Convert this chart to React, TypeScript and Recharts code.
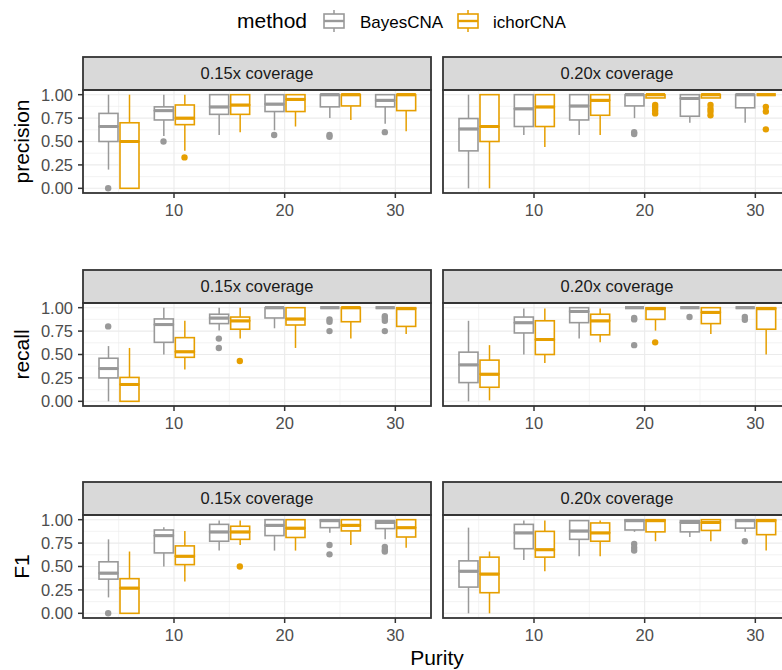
import { ComposedChart, Bar, Scatter, XAxis, YAxis, CartesianGrid } from "recharts";

const purity = [5, 10, 15, 20, 25, 30];
const purityTicks = [10, 20, 30];
const purityMinor = [5, 15, 25];
const scoreTicks = [0, 0.25, 0.5, 0.75, 1];
const scoreMinor = [0.125, 0.375, 0.625, 0.875];
const metrics = ["precision", "recall", "F1"];
const coverages = ["0.15x coverage", "0.20x coverage"];
const methods = ["BayesCNA", "ichorCNA"];

// each entry: [lower whisker, q1, median, q3, upper whisker]
const precisionLowBayes = [
  [0.2, 0.5, 0.66, 0.8, 1.0],
  [0.56, 0.73, 0.83, 0.87, 1.0],
  [0.57, 0.79, 0.87, 1.0, 1.0],
  [0.62, 0.82, 0.9, 1.0, 1.0],
  [0.75, 0.87, 1.0, 1.0, 1.0],
  [0.69, 0.87, 0.94, 1.0, 1.0],
];
const precisionLowIchor = [
  [0, 0, 0.5, 0.7, 1.0],
  [0.4, 0.68, 0.75, 0.89, 1.0],
  [0.6, 0.79, 0.89, 1.0, 1.0],
  [0.66, 0.82, 0.95, 1.0, 1.0],
  [0.73, 0.88, 1.0, 1.0, 1.0],
  [0.61, 0.83, 1.0, 1.0, 1.0],
];
const precisionHighBayes = [
  [0, 0.4, 0.635, 0.745, 1.0],
  [0.57, 0.66, 0.85, 1.0, 1.0],
  [0.57, 0.73, 0.88, 1.0, 1.0],
  [0.75, 0.88, 1.0, 1.0, 1.0],
  [0.7, 0.77, 0.96, 1.0, 1.0],
  [0.7, 0.86, 1.0, 1.0, 1.0],
];
const precisionHighIchor = [
  [0, 0.5, 0.66, 1.0, 1.0],
  [0.44, 0.66, 0.87, 1.0, 1.0],
  [0.57, 0.78, 0.94, 1.0, 1.0],
  [0.965, 0.965, 1.0, 1.0, 1.0],
  [0.965, 0.965, 1.0, 1.0, 1.0],
  [1.0, 1.0, 1.0, 1.0, 1.0],
];
const recallLowBayes = [
  [0, 0.25, 0.35, 0.46, 0.59],
  [0.5, 0.63, 0.82, 0.88, 1.0],
  [0.755, 0.83, 0.89, 0.93, 1.0],
  [0.78, 0.89, 1.0, 1.0, 1.0],
  [1.0, 1.0, 1.0, 1.0, 1.0],
  [1.0, 1.0, 1.0, 1.0, 1.0],
];
const recallLowIchor = [
  [0, 0, 0.18, 0.255, 0.57],
  [0.34, 0.47, 0.53, 0.68, 0.86],
  [0.67, 0.77, 0.86, 0.9, 1.0],
  [0.57, 0.815, 0.88, 1.0, 1.0],
  [0.67, 0.85, 1.0, 1.0, 1.0],
  [0.72, 0.8, 0.99, 1.0, 1.0],
];
const recallHighBayes = [
  [0, 0.2, 0.39, 0.525, 0.86],
  [0.5, 0.73, 0.84, 0.9, 0.99],
  [0.67, 0.84, 0.96, 1.0, 1.0],
  [1.0, 1.0, 1.0, 1.0, 1.0],
  [1.0, 1.0, 1.0, 1.0, 1.0],
  [1.0, 1.0, 1.0, 1.0, 1.0],
];
const recallHighIchor = [
  [0.01, 0.15, 0.29, 0.44, 0.6],
  [0.41, 0.5, 0.66, 0.86, 0.99],
  [0.63, 0.71, 0.86, 0.93, 0.99],
  [0.755, 0.875, 0.99, 1.0, 1.0],
  [0.72, 0.83, 0.95, 1.0, 1.0],
  [0.5, 0.77, 0.99, 1.0, 1.0],
];
const f1LowBayes = [
  [0.17, 0.365, 0.43, 0.55, 0.79],
  [0.5, 0.645, 0.83, 0.89, 0.92],
  [0.67, 0.77, 0.87, 0.95, 0.99],
  [0.67, 0.83, 0.94, 1.0, 1.0],
  [0.86, 0.915, 0.99, 1.0, 1.0],
  [0.79, 0.905, 0.97, 0.99, 0.99],
];
const f1LowIchor = [
  [0, 0, 0.27, 0.37, 0.66],
  [0.34, 0.52, 0.61, 0.72, 0.88],
  [0.73, 0.79, 0.87, 0.93, 0.99],
  [0.67, 0.81, 0.91, 1.0, 1.0],
  [0.73, 0.88, 0.94, 1.0, 1.0],
  [0.7, 0.815, 0.915, 1.0, 1.0],
];
const f1HighBayes = [
  [0, 0.28, 0.45, 0.56, 0.915],
  [0.57, 0.69, 0.86, 0.95, 0.99],
  [0.61, 0.79, 0.88, 0.99, 0.99],
  [0.87, 0.89, 0.99, 1.0, 1.0],
  [0.815, 0.87, 0.97, 0.99, 0.99],
  [0.87, 0.91, 0.99, 1.0, 1.0],
];
const f1HighIchor = [
  [0, 0.22, 0.42, 0.6, 0.66],
  [0.45, 0.6, 0.68, 0.875, 0.99],
  [0.61, 0.77, 0.86, 0.965, 0.99],
  [0.77, 0.87, 0.99, 1.0, 1.0],
  [0.77, 0.885, 0.97, 1.0, 1.0],
  [0.67, 0.84, 0.99, 1.0, 1.0],
];

// outliers, one list per purity level
const precisionLowBayesOut = [[0], [0.5], [], [0.57], [0.57, 0.55], [0.6]];
const precisionLowIchorOut = [[], [0.33], [], [], [], []];
const precisionHighBayesOut = [[], [], [], [0.6, 0.58], [], []];
const precisionHighIchorOut = [[], [], [], [0.89, 0.86, 0.83, 0.8], [0.89, 0.85, 0.82, 0.78], [0.87, 0.82, 0.63]];
const recallLowBayesOut = [[0.8], [], [0.67, 0.57], [], [0.875, 0.85, 0.75], [0.91, 0.89, 0.86, 0.75]];
const recallLowIchorOut = [[], [], [0.43], [], [], []];
const recallHighBayesOut = [[], [], [], [0.89, 0.875, 0.6], [0.9], [0.9, 0.87]];
const recallHighIchorOut = [[], [], [], [0.63], [], []];
const f1LowBayesOut = [[0], [], [], [], [0.73, 0.63], [0.71, 0.68, 0.66]];
const f1LowIchorOut = [[], [], [0.5], [], [], []];
const f1HighBayesOut = [[], [], [], [0.74, 0.7, 0.67], [], [0.77]];
const f1HighIchorOut = [[], [], [], [], [], []];

const FONT = '"Liberation Sans", Arial, Helvetica, sans-serif';
const GREY = "#999999";
const ORANGE = "#E69F00";
const DARK = "#333333";
const GRID = "#ebebeb";

const PLOT_TOPS = [90, 303, 515];
const PLOT_H = 103;
const STRIP_H = 33;
const COL_X = [83, 443];
const PLOT_W = 348;
const Y_AXIS_W = 83;
const TOP_PAD = 12;

const panelSeries = [
  [
    [precisionLowBayes, precisionLowIchor, precisionLowBayesOut, precisionLowIchorOut],
    [precisionHighBayes, precisionHighIchor, precisionHighBayesOut, precisionHighIchorOut],
  ],
  [
    [recallLowBayes, recallLowIchor, recallLowBayesOut, recallLowIchorOut],
    [recallHighBayes, recallHighIchor, recallHighBayesOut, recallHighIchorOut],
  ],
  [
    [f1LowBayes, f1LowIchor, f1LowBayesOut, f1LowIchorOut],
    [f1HighBayes, f1HighIchor, f1HighBayesOut, f1HighIchorOut],
  ],
];

function buildRows(bayes: number[][], ichor: number[][]) {
  return purity.map((p, i) => {
    const b = bayes[i];
    const c = ichor[i];
    return {
      purity: p,
      b0: b[0], b1: b[1] - b[0], b2: b[2] - b[1], b3: b[3] - b[2], b4: b[4] - b[3],
      i0: c[0], i1: c[1] - c[0], i2: c[2] - c[1], i3: c[3] - c[2], i4: c[4] - c[3],
    };
  });
}

function buildOutliers(out: number[][]) {
  const pts: { purity: number; v: number }[] = [];
  out.forEach((vals, i) => vals.forEach((v) => pts.push({ purity: purity[i], v })));
  return pts;
}

const emptyShape = () => <g />;

const whiskerShape = (color: string) => (props: any) => {
  const { x, y, width, height } = props;
  const cx = x + width / 2;
  return <line x1={cx} x2={cx} y1={y} y2={y + height} stroke={color} strokeWidth={1.5} />;
};

// lower half of the box: median sits on its top edge
const boxLowShape = (color: string) => (props: any) => {
  const { x, y, width, height } = props;
  return (
    <g>
      <rect x={x} y={y} width={width} height={height} fill="#fff" stroke={color} strokeWidth={1.6} />
      <line x1={x} x2={x + width} y1={y} y2={y} stroke={color} strokeWidth={3} />
    </g>
  );
};

// upper half of the box: median sits on its bottom edge
const boxHighShape = (color: string) => (props: any) => {
  const { x, y, width, height } = props;
  return (
    <g>
      <rect x={x} y={y} width={width} height={height} fill="#fff" stroke={color} strokeWidth={1.6} />
      <line x1={x} x2={x + width} y1={y + height} y2={y + height} stroke={color} strokeWidth={3} />
    </g>
  );
};

const outlierShape = (color: string, shift: number) => (props: any) => (
  <circle cx={props.cx + shift} cy={props.cy} r={3.2} fill={color} />
);

const PurityTick = (props: any) => {
  const { x, y, payload } = props;
  if (!purityTicks.includes(payload.value)) return <g />;
  return (
    <g>
      <line x1={x} x2={x} y1={y - 11} y2={y - 6} stroke={DARK} strokeWidth={1.5} />
      <text x={x} y={y} dy="0.71em" textAnchor="middle" fill="#4d4d4d" fontSize={16.5} fontFamily={FONT}>
        {payload.value}
      </text>
    </g>
  );
};

function Panel({ row, col }: { row: number; col: number }) {
  const [bayes, ichor, bayesOut, ichorOut] = panelSeries[row][col] as any;
  const rows = buildRows(bayes, ichor);
  const bayesPts = buildOutliers(bayesOut);
  const ichorPts = buildOutliers(ichorOut);
  const left = col === 0 ? 0 : COL_X[1];
  const width = col === 0 ? Y_AXIS_W + PLOT_W : PLOT_W;
  return (
    <div style={{ position: "absolute", left, top: PLOT_TOPS[row] - TOP_PAD }}>
      <ComposedChart
        width={width}
        height={PLOT_H + 40 + TOP_PAD}
        data={rows}
        margin={{ top: TOP_PAD, right: 0, bottom: 0, left: 0 }}
        barSize={19}
        barGap={2}
      >
        <CartesianGrid stroke={GRID} strokeWidth={1.1} horizontalValues={scoreTicks} verticalValues={purityTicks} />
        <CartesianGrid stroke={GRID} strokeWidth={0.6} horizontalValues={scoreMinor} verticalValues={purityMinor} />
        <XAxis
          dataKey="purity"
          type="category"
          allowDuplicatedCategory={false}
          padding={{ left: 8, right: 8 }}
          height={40}
          interval={0}
          axisLine={false}
          tickLine={false}
          tickSize={5}
          tickMargin={6}
          tick={<PurityTick />}
        />
        {col === 0 ? (
          <YAxis
            type="number"
            domain={[-0.05, 1.05]}
            allowDataOverflow
            ticks={scoreTicks}
            interval={0}
            width={Y_AXIS_W}
            axisLine={false}
            tickSize={5}
            tickMargin={5}
            tickLine={{ stroke: DARK, strokeWidth: 1.5 }}
            tick={{ fill: "#4d4d4d", fontSize: 16.5, fontFamily: FONT }}
            tickFormatter={(v: number) => v.toFixed(2)}
          />
        ) : (
          <YAxis type="number" domain={[-0.05, 1.05]} allowDataOverflow ticks={scoreTicks} hide />
        )}
        <Bar dataKey="b0" stackId="b" shape={emptyShape} isAnimationActive={false} />
        <Bar dataKey="b1" stackId="b" shape={whiskerShape(GREY)} isAnimationActive={false} />
        <Bar dataKey="b2" stackId="b" shape={boxLowShape(GREY)} isAnimationActive={false} />
        <Bar dataKey="b3" stackId="b" shape={boxHighShape(GREY)} isAnimationActive={false} />
        <Bar dataKey="b4" stackId="b" shape={whiskerShape(GREY)} isAnimationActive={false} />
        <Bar dataKey="i0" stackId="i" shape={emptyShape} isAnimationActive={false} />
        <Bar dataKey="i1" stackId="i" shape={whiskerShape(ORANGE)} isAnimationActive={false} />
        <Bar dataKey="i2" stackId="i" shape={boxLowShape(ORANGE)} isAnimationActive={false} />
        <Bar dataKey="i3" stackId="i" shape={boxHighShape(ORANGE)} isAnimationActive={false} />
        <Bar dataKey="i4" stackId="i" shape={whiskerShape(ORANGE)} isAnimationActive={false} />
        {bayesPts.length > 0 && (
          <Scatter data={bayesPts} dataKey="v" shape={outlierShape(GREY, -10.5)} isAnimationActive={false} />
        )}
        {ichorPts.length > 0 && (
          <Scatter data={ichorPts} dataKey="v" shape={outlierShape(ORANGE, 10.5)} isAnimationActive={false} />
        )}
      </ComposedChart>
    </div>
  );
}

function LegendKey({ x, color }: { x: number; color: string }) {
  return (
    <g>
      <line x1={x + 11} x2={x + 11} y1={10} y2={14} stroke={color} strokeWidth={1.5} />
      <line x1={x + 11} x2={x + 11} y1={28} y2={32} stroke={color} strokeWidth={1.5} />
      <rect x={x + 1} y={14} width={20} height={14} fill="#fff" stroke={color} strokeWidth={1.6} />
      <line x1={x + 1} x2={x + 21} y1={21} y2={21} stroke={color} strokeWidth={2.4} />
    </g>
  );
}

export default function App() {
  return (
    <div
      style={{
        position: "absolute",
        left: 0,
        top: 0,
        width: 782,
        height: 670,
        overflow: "hidden",
        background: "#fff",
        fontFamily: FONT,
      }}
    >
      {metrics.map((m, r) => coverages.map((c, col) => <Panel key={`${m}-${col}`} row={r} col={col} />))}
      <svg width={782} height={670} style={{ position: "absolute", left: 0, top: 0, pointerEvents: "none" }}>
        <text x={237} y={28} fontSize={21} fill="#000" fontFamily={FONT}>
          method
        </text>
        <LegendKey x={323} color={GREY} />
        <text x={360} y={27.5} fontSize={17} fill="#000" fontFamily={FONT}>
          {methods[0]}
        </text>
        <LegendKey x={457} color={ORANGE} />
        <text x={493} y={27.5} fontSize={17} fill="#000" fontFamily={FONT}>
          {methods[1]}
        </text>
        {metrics.map((m, r) => (
          <g key={m}>
            <text
              x={0}
              y={0}
              fontSize={21}
              fill="#000"
              textAnchor="middle"
              fontFamily={FONT}
              transform={`translate(28.5 ${PLOT_TOPS[r] + PLOT_H / 2}) rotate(-90)`}
            >
              {m}
            </text>
            {coverages.map((c, col) => (
              <g key={c}>
                <rect
                  x={COL_X[col]}
                  y={PLOT_TOPS[r] - STRIP_H}
                  width={PLOT_W}
                  height={STRIP_H}
                  fill="#d9d9d9"
                  stroke={DARK}
                  strokeWidth={1.8}
                />
                <text
                  x={COL_X[col] + PLOT_W / 2}
                  y={PLOT_TOPS[r] - STRIP_H / 2}
                  dy="0.355em"
                  textAnchor="middle"
                  fontSize={16.5}
                  fill="#1a1a1a"
                  fontFamily={FONT}
                >
                  {c}
                </text>
                <rect
                  x={COL_X[col]}
                  y={PLOT_TOPS[r]}
                  width={PLOT_W}
                  height={PLOT_H}
                  fill="none"
                  stroke={DARK}
                  strokeWidth={1.8}
                />
              </g>
            ))}
          </g>
        ))}
        <text x={437} y={665} fontSize={21} fill="#000" textAnchor="middle" fontFamily={FONT}>
          Purity
        </text>
      </svg>
    </div>
  );
}
